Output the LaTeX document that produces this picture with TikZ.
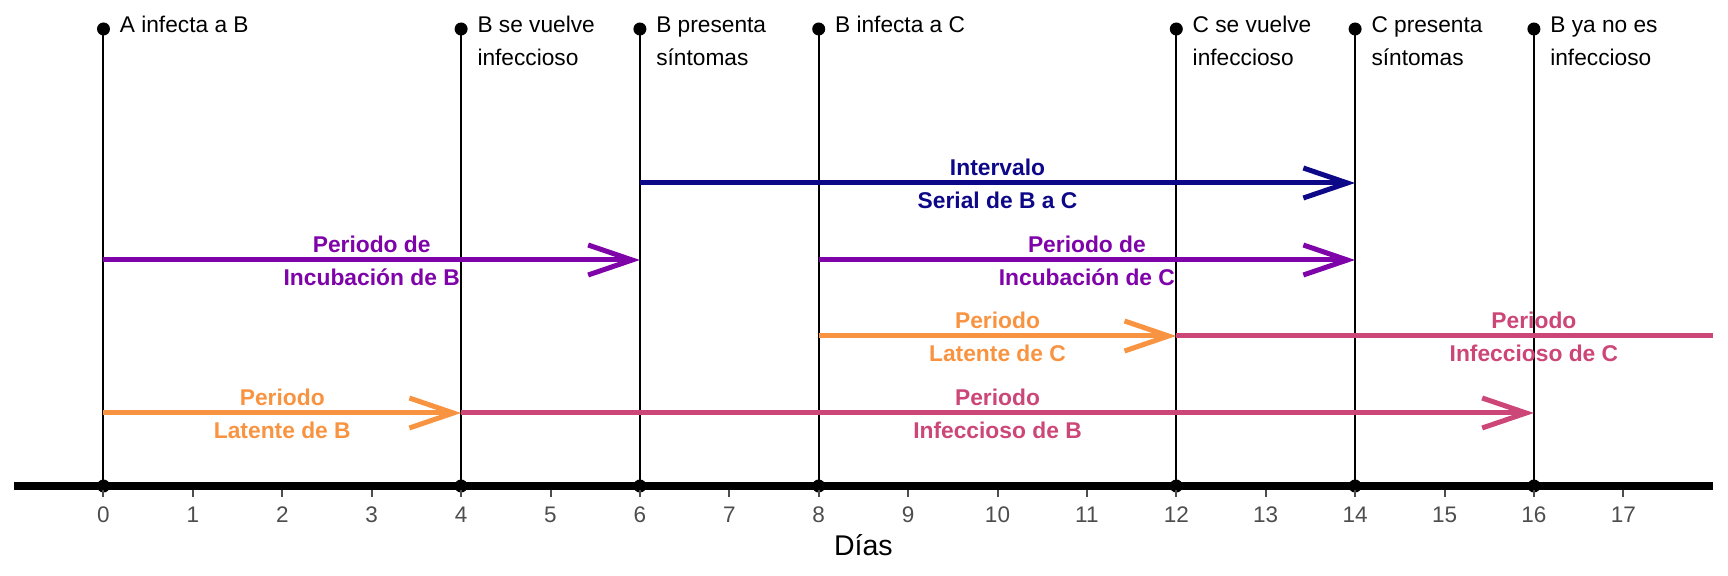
\documentclass[tikz,border=0pt]{standalone}
\usepackage{fontspec}
\setmainfont{Liberation Sans}
\usetikzlibrary{arrows.meta}
\definecolor{cserial}{HTML}{0D0887}
\definecolor{cincub}{HTML}{7E03A8}
\definecolor{cinf}{HTML}{CC4678}
\definecolor{clat}{HTML}{F89441}
\definecolor{tickgray}{HTML}{4D4D4D}
\begin{document}
\begin{tikzpicture}[x=44.7pt, y=-0.5pt,
  evline/.style={line width=1pt, black},
  evdot/.style={circle, fill=black, inner sep=0pt, minimum size=6.5pt},
  evtext/.style={anchor=base west, inner sep=0pt, xshift=8pt, font=\fontsize{11.35}{13}\selectfont},
  period/.style={line width=2.5pt},
  arr/.style={-{Straight Barb[length=22pt,width=15pt,line cap=butt,line join=miter]}},
  lab/.style={inner sep=0pt, anchor=base, font=\fontsize{11.4}{13}\selectfont\bfseries},
  ticklab/.style={anchor=base, inner sep=0pt, text=tickgray, font=\fontsize{11.25}{13}\selectfont},
]
\useasboundingbox (-1.1577,0) rectangle (18.171,576);

% event lines
\foreach \d in {0,4,6,8,12,14,16} {
  \node[evdot] (top\d) at (\d,29) {};
  \node[evdot] (bot\d) at (\d,486) {};
  \draw[evline] (top\d.center) -- (bot\d.center);
}

% axis
\coordinate (axL) at (-1,486);
\coordinate (axR) at (18,486);
\draw[line width=4pt] (axL) -- (axR);
\foreach \d in {0,...,17} {
  \coordinate (tk\d) at (\d,490);
  \coordinate (tke\d) at (\d,497);
  \draw[tickgray, line width=1pt] (tk\d) -- (tke\d);
  \node[ticklab] (tl\d) at (\d,523) {\d};
}
\node[anchor=base, inner sep=0pt, font=\fontsize{14.25}{16}\selectfont] (xlab) at (8.5,555) {Días};

% event labels
\node[evtext] (e0a) at (0,33) {A infecta a B};
\node[evtext] (e4a) at (4,33) {B se vuelve};
\node[evtext] (e4b) at (4,66) {infeccioso};
\node[evtext] (e6a) at (6,33) {B presenta};
\node[evtext] (e6b) at (6,66) {síntomas};
\node[evtext] (e8a) at (8,33) {B infecta a C};
\node[evtext] (e12a) at (12,33) {C se vuelve};
\node[evtext] (e12b) at (12,66) {infeccioso};
\node[evtext] (e14a) at (14,33) {C presenta};
\node[evtext] (e14b) at (14,66) {síntomas};
\node[evtext] (e16a) at (16,33) {B ya no es};
\node[evtext] (e16b) at (16,66) {infeccioso};

% period coordinates
\coordinate (ser0) at (6,183);  \coordinate (ser1) at (14,183);
\coordinate (incB0) at (0,260); \coordinate (incB1) at (6,260);
\coordinate (incC0) at (8,260); \coordinate (incC1) at (14,260);
\coordinate (latC0) at (8,336); \coordinate (latC1) at (12,336);
\coordinate (infC1) at (18,336);
\coordinate (latB0) at (0,413); \coordinate (latB1) at (4,413);
\coordinate (infB1) at (16,413);

% period arrows
\draw[period, cserial, arr] (ser0) -- (ser1);
\draw[period, cincub, arr] (incB0) -- (incB1);
\draw[period, cincub, arr] (incC0) -- (incC1);
\draw[period, cinf] (latC1) -- (infC1);
\draw[period, clat, arr] (latC0) -- (latC1);
\draw[period, cinf, arr] (latB1) -- (infB1);
\draw[period, clat, arr] (latB0) -- (latB1);

% period labels
\node[lab, text=cserial] (lser1) at (10,176) {Intervalo};
\node[lab, text=cserial] (lser2) at (10,209) {Serial de B a C};
\node[lab, text=cincub] (lincB1) at (3,253) {Periodo de};
\node[lab, text=cincub] (lincB2) at (3,286) {Incubación de B};
\node[lab, text=cincub] (lincC1) at (11,253) {Periodo de};
\node[lab, text=cincub] (lincC2) at (11,286) {Incubación de C};
\node[lab, text=clat] (llatC1) at (10,329) {Periodo};
\node[lab, text=clat] (llatC2) at (10,362) {Latente de C};
\node[lab, text=cinf] (linfC1) at (16,329) {Periodo};
\node[lab, text=cinf] (linfC2) at (16,362) {Infeccioso de C};
\node[lab, text=clat] (llatB1) at (2,406) {Periodo};
\node[lab, text=clat] (llatB2) at (2,439) {Latente de B};
\node[lab, text=cinf] (linfB1) at (10,406) {Periodo};
\node[lab, text=cinf] (linfB2) at (10,439) {Infeccioso de B};
\end{tikzpicture}
\end{document}
